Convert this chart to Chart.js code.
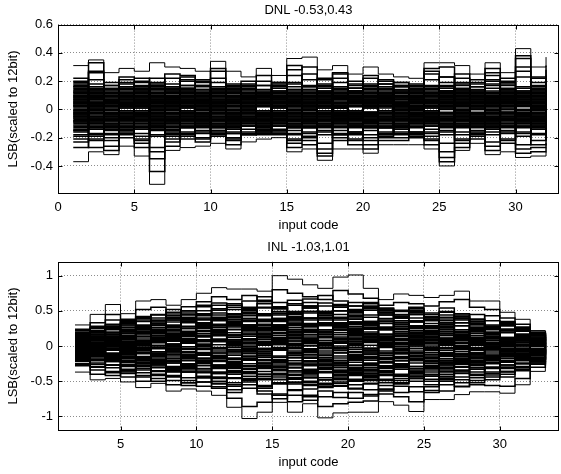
<!DOCTYPE html>
<html><head><meta charset="utf-8">
<script src="https://cdn.jsdelivr.net/npm/chart.js@4.4.1/dist/chart.umd.min.js"></script>
<style>
html,body{margin:0;padding:0;background:#fff;}
#wrap{position:relative;width:561px;height:474px;overflow:hidden;}
.box{position:absolute;left:0;width:561px;height:237px;}
</style></head>
<body><div id="wrap">
<div class="box" style="top:0"><canvas id="c1" width="561" height="237"></canvas></div>
<div class="box" style="top:237px"><canvas id="c2" width="561" height="237"></canvas></div>
</div>
<script>
// ---------- DNL (codes 1..32) ----------
const dnlCodes = [1,2,3,4,5,6,7,8,9,10,11,12,13,14,15,16,17,18,19,20,21,22,23,24,25,26,27,28,29,30,31,32];
const dnlXTicks = [0,5,10,15,20,25,30];
const dnlYTicks = [-0.4,-0.2,0,0.2,0.4,0.6];
const dnlTop    = [0.31,0.35,0.26,0.29,0.27,0.33,0.30,0.29,0.27,0.34,0.27,0.23,0.29,0.24,0.36,0.37,0.28,0.31,0.25,0.30,0.25,0.23,0.22,0.33,0.33,0.31,0.25,0.33,0.26,0.43,0.30,0.37];
const dnlBottom = [-0.37,-0.30,-0.32,-0.26,-0.33,-0.53,-0.29,-0.27,-0.26,-0.24,-0.28,-0.23,-0.21,-0.20,-0.30,-0.28,-0.36,-0.28,-0.28,-0.31,-0.25,-0.25,-0.25,-0.28,-0.40,-0.29,-0.24,-0.32,-0.30,-0.34,-0.33,-0.30];
const dnl01 = [0.14,-0.03,0.09,-0.12,0.05,0.18,-0.07,0.02,0.11,-0.15,0.06,-0.01,0.13,-0.09,0.04,0.16,-0.11,0.08,-0.04,0.12,-0.13,0.03,0.07,-0.06,0.15,-0.02,0.10,-0.14,0.01,0.09,-0.08,0.05];
const dnl02 = [-0.06,0.11,-0.15,0.03,0.13,-0.04,0.08,-0.12,0.00,0.07,-0.10,0.14,-0.05,0.02,-0.13,0.09,0.04,-0.08,0.15,-0.02,0.06,-0.11,0.12,0.01,-0.07,0.13,-0.04,0.08,-0.12,0.03,0.14,-0.09];
const dnl03 = [0.02,-0.14,0.06,0.10,-0.08,0.01,0.15,-0.05,-0.11,0.04,0.12,-0.07,0.09,0.13,-0.01,-0.10,0.07,0.14,-0.06,-0.12,0.11,0.05,-0.09,0.10,-0.03,0.06,0.13,-0.10,0.08,-0.05,0.02,-0.13];
const dnl04 = [0.10,0.05,-0.09,-0.02,0.16,-0.12,0.04,0.09,-0.06,0.13,-0.03,0.08,-0.11,0.05,0.12,-0.07,-0.02,0.10,0.06,-0.09,-0.05,0.13,0.02,-0.12,0.09,0.04,-0.08,0.11,-0.02,-0.13,0.07,0.12];
const dnl05 = [-0.13,0.08,0.03,-0.07,-0.01,0.10,-0.14,0.12,0.06,-0.04,0.09,0.02,-0.08,-0.12,0.07,0.03,-0.13,0.01,0.11,0.08,-0.03,-0.07,0.14,0.04,-0.11,-0.05,0.09,0.02,0.12,-0.08,-0.01,0.06];
const dnl06 = [0.07,-0.09,0.12,0.04,-0.10,-0.06,0.09,-0.02,0.14,0.01,-0.13,0.05,0.10,-0.04,-0.08,0.12,0.05,-0.10,0.02,0.14,0.09,-0.13,-0.01,0.07,0.11,-0.09,0.03,-0.06,0.15,0.05,-0.11,0.00];
const dnl07 = [-0.01,0.14,-0.05,0.08,0.03,-0.15,0.01,0.06,-0.09,0.11,0.05,-0.12,0.02,0.09,-0.11,-0.04,0.12,0.03,-0.12,0.04,0.13,0.00,-0.06,0.12,-0.08,0.10,-0.11,0.06,-0.04,0.11,0.04,-0.07];
const dnl08 = [0.12,-0.06,-0.11,0.14,-0.04,0.06,-0.10,0.15,0.03,-0.08,-0.06,0.11,-0.02,-0.07,0.10,0.07,-0.08,-0.03,0.09,-0.13,0.02,0.10,-0.12,-0.04,0.06,0.12,-0.06,-0.11,0.04,0.08,-0.14,0.10];
const dnl09 = [-0.09,0.02,0.13,-0.10,0.09,0.03,-0.03,-0.08,0.09,-0.01,0.14,-0.09,0.07,0.11,-0.06,0.01,0.10,-0.13,-0.08,0.06,-0.10,0.04,0.09,-0.09,0.01,-0.12,0.11,0.07,-0.09,-0.02,0.12,0.03];
const dnl10 = [0.04,0.09,-0.02,0.12,-0.13,0.14,0.06,-0.13,-0.04,0.09,-0.11,0.03,0.12,-0.10,0.04,-0.12,0.06,0.08,-0.02,-0.06,0.08,-0.08,0.03,0.14,-0.13,0.07,0.00,-0.12,0.10,0.13,-0.05,-0.10];
const dnl11 = [-0.04,-0.12,0.08,0.01,0.11,-0.08,0.12,0.03,-0.13,0.06,0.01,-0.04,-0.12,0.03,0.14,-0.09,-0.05,0.12,0.04,0.11,-0.07,0.07,-0.10,-0.02,0.12,-0.03,0.08,0.13,-0.07,0.04,0.09,-0.03];
const dnl12 = [0.16,0.04,-0.06,-0.11,0.07,0.02,-0.11,0.10,0.05,-0.12,0.10,-0.10,0.04,0.07,-0.09,0.14,-0.10,-0.06,0.13,-0.04,0.11,-0.02,0.06,-0.07,0.03,0.09,-0.13,0.01,0.06,-0.11,-0.06,0.14];
const dnl13 = [-0.11,0.12,0.11,-0.04,-0.06,0.12,0.05,-0.06,-0.10,0.13,-0.07,0.07,-0.06,-0.03,0.09,-0.06,0.13,0.06,-0.11,0.09,0.04,-0.12,-0.08,0.09,-0.06,0.14,0.06,-0.08,-0.12,0.10,0.01,-0.12];
const dnl14 = [0.08,-0.01,-0.13,0.06,0.13,-0.02,-0.08,0.13,0.12,-0.06,0.04,0.12,-0.09,0.12,-0.04,0.10,-0.03,-0.11,0.08,-0.09,-0.12,0.12,0.05,-0.11,0.10,-0.07,-0.04,0.10,0.02,-0.07,0.13,0.07];
const dnl15 = [-0.02,0.07,0.05,-0.14,0.01,-0.09,0.14,-0.01,-0.05,0.02,-0.12,0.09,0.11,-0.12,0.06,0.05,-0.12,0.10,-0.07,0.01,0.06,0.03,-0.11,0.05,0.08,-0.10,0.12,-0.03,-0.08,0.06,-0.10,0.08];
const dnl16 = [0.11,-0.10,0.00,0.09,-0.09,0.08,-0.05,0.04,0.07,-0.09,0.08,-0.06,-0.04,0.06,-0.12,0.12,0.02,-0.04,-0.10,0.12,-0.01,-0.05,0.11,-0.05,-0.10,0.03,-0.10,0.05,0.11,-0.03,0.06,-0.05];
const dnl17 = [-0.07,0.03,-0.08,-0.05,0.04,-0.13,0.10,-0.10,0.13,0.05,-0.02,0.01,0.08,-0.05,0.02,-0.08,0.09,0.01,0.07,-0.11,0.09,-0.09,-0.04,0.11,0.05,-0.02,0.07,-0.13,0.00,0.09,-0.08,0.11];
const dnl18 = [0.05,0.13,0.10,-0.08,0.10,0.05,-0.12,0.07,-0.07,-0.03,0.12,-0.11,0.03,0.09,0.08,-0.03,-0.07,0.13,-0.03,0.05,-0.09,0.11,0.01,-0.08,0.13,0.01,-0.06,0.08,-0.05,-0.12,0.03,0.02];
const dnl19 = [-0.12,-0.05,0.02,0.11,-0.11,-0.03,0.07,-0.04,0.02,0.11,-0.05,0.06,-0.13,-0.01,-0.07,0.09,0.11,-0.08,0.05,-0.07,0.12,-0.04,-0.13,0.06,-0.04,-0.11,0.10,0.03,0.13,-0.04,-0.13,0.09];
const dnl20 = [0.01,0.10,-0.12,-0.03,0.06,0.11,-0.01,0.11,-0.12,0.07,0.07,-0.02,0.10,-0.08,0.11,-0.11,0.04,-0.09,-0.05,0.10,-0.06,0.05,0.08,-0.01,-0.12,0.08,-0.09,-0.07,0.07,0.12,0.10,-0.04];
const dnl21 = [0.13,-0.08,0.07,0.05,-0.03,-0.10,0.11,0.01,0.10,-0.10,-0.09,0.10,-0.03,0.10,-0.02,0.04,-0.11,0.09,0.10,-0.02,0.01,-0.10,0.04,0.12,0.07,-0.08,0.05,-0.09,-0.10,0.00,-0.07,0.13];
const dnl22 = [-0.05,0.06,-0.04,0.13,-0.07,0.07,-0.09,-0.07,0.06,-0.05,0.13,0.08,-0.07,0.01,0.13,-0.05,0.08,-0.02,-0.09,0.07,-0.11,0.08,-0.06,-0.06,0.11,0.11,-0.12,0.12,-0.06,0.07,0.11,-0.11];
const dnl23 = [0.09,-0.13,0.14,-0.09,0.12,-0.05,0.03,0.08,-0.02,0.12,-0.04,-0.08,0.06,-0.11,0.00,0.11,-0.04,0.04,0.12,-0.10,0.05,0.02,-0.07,0.08,-0.09,0.04,0.09,-0.01,0.09,-0.09,-0.04,0.04];
const dnl24 = [-0.08,0.09,-0.10,0.02,0.02,0.15,-0.06,-0.11,0.08,-0.07,0.05,-0.05,0.11,0.04,-0.10,-0.01,-0.09,0.11,-0.06,0.03,0.10,-0.07,0.10,-0.10,0.02,-0.06,0.02,0.09,-0.11,0.05,0.08,-0.02];
const dnl25 = [0.06,0.00,0.04,-0.06,-0.12,-0.07,0.13,0.05,-0.08,0.03,-0.08,0.13,-0.10,0.08,0.07,-0.13,0.12,-0.05,0.03,-0.12,-0.04,0.13,-0.02,0.05,0.09,-0.04,-0.09,-0.05,0.11,-0.06,0.01,0.07];
const dnl26 = [-0.03,-0.07,0.09,0.07,0.08,0.09,-0.04,0.02,0.12,-0.11,0.02,-0.09,0.05,-0.06,0.10,0.02,0.07,-0.12,0.08,0.09,-0.08,-0.03,0.07,-0.05,-0.07,0.10,0.04,-0.10,0.03,0.11,-0.09,-0.06];
const dnl27 = [0.10,0.11,-0.07,-0.12,0.03,-0.11,0.08,-0.09,-0.03,0.08,-0.13,0.04,-0.04,0.11,-0.05,0.06,-0.06,0.07,-0.12,0.02,0.07,-0.05,-0.10,0.10,0.04,0.00,-0.07,0.04,-0.03,-0.10,0.05,0.10];
const dnl28 = [-0.10,-0.04,0.01,0.03,-0.05,0.04,-0.13,0.09,0.04,-0.02,0.09,0.00,-0.11,-0.04,0.05,-0.10,0.10,-0.01,0.06,-0.05,0.03,0.09,-0.03,-0.08,-0.05,0.12,-0.11,0.07,0.06,-0.01,-0.12,0.01];
const dnl29 = [0.03,0.08,-0.14,0.10,0.09,-0.01,0.04,-0.12,0.10,0.04,-0.01,-0.12,0.09,-0.09,-0.08,0.13,0.01,-0.07,-0.01,0.13,-0.12,0.04,0.12,0.02,0.10,-0.12,0.08,-0.02,-0.05,0.08,0.07,-0.08];
const dnl30 = [0.15,-0.11,0.05,-0.10,-0.02,0.06,-0.02,0.04,-0.05,0.10,0.06,0.11,-0.01,0.05,0.03,-0.07,-0.03,0.08,-0.04,-0.08,0.08,-0.01,-0.05,0.07,-0.10,0.05,0.12,-0.09,0.08,-0.07,0.00,0.12];
const dnl31 = [-0.14,0.04,0.07,-0.01,0.14,-0.09,-0.10,0.12,-0.07,0.05,-0.09,0.07,0.02,-0.10,0.12,0.08,-0.01,-0.09,0.11,0.04,-0.02,-0.12,0.06,-0.03,0.13,-0.08,0.01,0.11,-0.07,0.02,-0.09,0.04];
const dnl32 = [0.00,-0.02,-0.11,0.08,-0.10,0.13,0.02,-0.03,0.11,-0.08,0.11,-0.03,-0.12,0.07,-0.03,0.03,0.12,0.04,-0.10,0.08,0.11,0.06,-0.08,0.09,-0.02,0.03,-0.05,-0.08,0.10,0.12,0.05,-0.09];
const dnl33 = [0.07,0.15,0.03,-0.13,0.06,-0.05,0.06,0.10,-0.09,-0.06,0.03,-0.07,0.07,0.12,-0.11,-0.09,0.05,0.11,-0.05,-0.10,0.05,0.09,0.01,-0.12,0.07,0.08,-0.03,0.03,-0.12,-0.04,0.10,0.03];
const dnl34 = [-0.06,-0.09,0.11,0.12,-0.04,0.03,-0.07,-0.08,0.06,0.12,-0.10,0.09,-0.08,-0.02,0.06,-0.03,-0.12,0.02,0.09,-0.04,-0.05,-0.06,0.13,0.04,-0.11,0.11,0.07,-0.06,0.05,0.04,-0.02,-0.11];
const dnl35 = [0.12,0.07,-0.03,0.04,0.11,0.10,-0.03,0.06,0.01,-0.13,0.05,0.10,0.09,-0.07,0.09,-0.12,0.03,-0.10,0.02,0.11,-0.13,0.03,-0.04,0.11,0.00,-0.05,-0.10,0.09,0.03,-0.12,0.08,0.06];
const dnl36 = [-0.02,-0.13,0.06,-0.07,-0.08,-0.11,0.12,-0.05,-0.11,0.07,-0.03,-0.05,0.12,0.02,-0.13,0.05,-0.08,0.12,-0.11,0.06,0.08,-0.11,0.08,-0.06,0.09,0.07,0.05,-0.11,0.13,0.09,-0.04,-0.01];
const dnl37 = [0.09,0.03,-0.08,0.09,0.04,0.01,-0.09,0.14,0.05,0.00,0.13,-0.01,-0.05,0.08,0.02,0.10,0.08,-0.03,0.07,-0.03,0.02,0.12,-0.09,-0.03,-0.08,0.13,-0.08,0.00,-0.06,0.06,0.13,-0.06];
const dnl38 = [-0.09,0.10,0.02,-0.06,-0.13,0.07,0.05,-0.07,0.08,-0.11,-0.11,0.06,0.04,-0.12,0.07,-0.05,0.09,-0.04,-0.08,0.09,-0.07,0.01,0.05,0.06,-0.07,-0.13,0.10,0.06,-0.02,-0.09,-0.11,0.05];
const dnl39 = [0.04,-0.10,0.12,0.03,0.08,-0.14,-0.05,0.01,-0.04,0.04,0.08,-0.08,0.11,0.05,-0.08,0.01,-0.06,0.07,0.13,-0.12,0.10,-0.08,-0.01,0.13,0.05,-0.01,0.03,-0.04,0.12,0.05,0.02,0.09];
const dnl40 = [-0.15,0.01,-0.06,0.10,-0.06,0.09,0.09,-0.13,0.03,0.09,-0.06,0.03,-0.09,0.09,0.11,-0.08,0.11,-0.06,-0.02,0.02,-0.03,0.07,0.09,-0.09,0.12,-0.11,-0.07,0.12,-0.10,0.11,-0.06,-0.13];
const dnl41 = [0.22,-0.19,0.14,0.21,-0.22,0.16,-0.21,0.20,-0.17,0.22,0.16,-0.18,0.17,-0.15,0.24,-0.19,0.18,-0.20,0.18,0.22,-0.19,0.17,-0.18,0.25,-0.24,0.19,-0.17,0.24,-0.21,0.30,-0.22,0.18];
const dnl42 = [-0.23,0.27,-0.20,-0.17,0.19,-0.27,0.18,-0.19,0.20,-0.17,-0.20,0.16,-0.16,0.18,-0.21,0.25,-0.24,0.22,-0.16,-0.20,0.20,-0.18,0.17,-0.19,0.23,-0.21,0.18,-0.23,0.19,-0.25,0.22,-0.22];
const dnl43 = [0.18,0.21,-0.22,0.19,0.20,-0.35,0.22,0.17,-0.20,0.19,-0.21,0.17,0.20,-0.17,-0.22,0.21,-0.28,0.19,0.17,-0.22,0.16,-0.17,0.16,0.21,0.23,-0.22,0.16,0.21,0.18,0.27,0.19,-0.20];
const dnl44 = [-0.19,-0.22,0.17,-0.20,-0.24,0.22,-0.19,0.21,0.19,-0.18,0.18,-0.17,-0.15,0.16,0.19,-0.20,0.21,-0.18,-0.21,0.18,-0.18,0.19,-0.19,-0.21,-0.30,0.22,-0.18,0.20,-0.22,0.23,-0.25,0.24];
const dnl45 = [0.16,0.33,0.19,-0.16,0.17,0.19,-0.17,0.23,0.17,0.27,-0.17,0.20,-0.14,0.19,0.28,0.30,0.15,0.25,-0.17,0.24,0.18,0.16,-0.16,0.27,0.19,0.25,0.19,0.26,0.20,0.36,0.23,0.28];
const dnl46 = [-0.27,-0.21,-0.26,0.16,-0.21,-0.30,-0.23,-0.21,-0.21,-0.16,-0.22,-0.18,-0.17,-0.17,-0.24,-0.22,-0.31,-0.22,-0.22,-0.25,-0.20,-0.20,-0.20,-0.22,-0.34,-0.24,-0.19,-0.26,-0.24,-0.28,-0.27,-0.24];
const dnl47 = [0.20,0.26,0.05,0.23,0.22,-0.12,0.25,0.24,0.21,0.29,-0.05,0.18,0.24,0.19,0.31,0.08,0.22,0.26,0.20,-0.09,0.21,0.19,0.18,0.29,0.30,0.03,0.21,0.29,0.22,0.38,0.10,0.31];
const dnl48 = [-0.21,-0.27,-0.29,0.02,-0.27,-0.44,-0.26,-0.10,-0.23,-0.19,-0.25,0.07,-0.18,-0.18,-0.27,-0.25,-0.33,-0.04,-0.25,-0.28,-0.22,-0.22,0.11,-0.25,-0.37,-0.27,-0.21,-0.29,0.00,-0.31,-0.30,-0.27];
const dnl49 = [0.03,-0.02,0.05,-0.04,0.01,0.06,-0.03,0.02,-0.05,0.04,0.00,-0.03,0.05,-0.02,0.03,-0.04,0.06,-0.01,0.02,-0.05,0.04,-0.02,0.01,0.05,-0.03,0.02,-0.06,0.03,0.00,-0.04,0.05,-0.01];
const dnl50 = [-0.04,0.05,-0.01,0.03,-0.05,0.00,0.04,-0.06,0.03,-0.02,0.05,0.02,-0.04,0.06,-0.01,0.02,-0.05,0.03,-0.03,0.04,-0.06,0.01,0.04,-0.02,0.05,-0.04,0.03,-0.01,0.06,0.02,-0.03,0.04];
const dnl51 = [0.06,0.01,-0.04,-0.02,0.04,-0.06,0.01,0.05,-0.01,-0.05,0.03,0.05,-0.01,-0.04,0.05,0.06,-0.02,-0.04,0.05,0.01,0.02,0.05,-0.05,-0.01,0.01,0.06,0.00,-0.05,-0.03,0.05,-0.05,-0.04];
const dnl52 = [-0.01,-0.06,0.02,0.06,-0.03,0.03,-0.05,-0.02,0.06,0.02,-0.04,-0.06,0.03,0.01,-0.06,-0.02,0.03,0.05,-0.06,-0.02,0.06,-0.04,0.02,0.03,-0.06,-0.01,0.05,0.04,-0.02,-0.06,0.01,0.06];
const dnl53 = [0.05,0.03,0.00,-0.05,0.06,0.02,0.06,-0.04,0.01,0.06,-0.06,0.01,0.06,-0.05,0.01,0.04,0.01,-0.06,0.03,0.06,-0.01,0.03,-0.04,0.06,0.04,-0.05,-0.03,0.06,0.04,0.00,0.03,-0.02];
const dnl54 = [-0.05,0.00,0.06,0.01,-0.01,-0.04,0.03,0.04,-0.06,-0.03,0.02,0.04,-0.06,0.04,0.04,-0.06,-0.04,0.02,-0.01,-0.04,0.03,-0.06,0.06,-0.05,0.03,0.04,-0.02,-0.03,0.05,0.04,-0.06,0.02];
const dnl55 = [0.02,-0.05,-0.03,0.04,0.03,-0.02,-0.06,0.06,0.04,0.01,-0.02,-0.05,0.02,0.03,-0.04,0.00,0.05,-0.02,0.06,0.03,-0.05,0.04,0.00,0.01,-0.05,0.05,0.06,-0.06,-0.05,0.03,0.04,-0.05];
const dnl56 = [-0.03,0.04,0.04,-0.06,-0.04,0.05,0.00,-0.01,-0.03,0.05,0.06,-0.02,-0.03,-0.06,0.06,0.03,-0.03,0.01,-0.04,-0.06,0.05,0.02,-0.03,-0.04,0.06,-0.06,0.01,0.02,0.02,-0.05,0.06,0.03];
const dnl57 = [0.08,-0.07,0.07,0.07,-0.08,0.08,-0.08,0.08,0.07,-0.08,0.07,0.08,-0.07,0.08,-0.08,0.07,-0.08,-0.07,0.08,0.07,-0.08,0.08,-0.07,-0.08,0.08,0.07,-0.08,0.08,-0.07,0.07,-0.08,0.08];
const dnl58 = [-0.08,0.08,-0.07,-0.08,0.07,-0.07,0.08,-0.08,-0.08,0.07,-0.08,-0.07,0.08,-0.07,0.08,-0.08,0.07,0.08,-0.07,-0.08,0.08,-0.07,0.08,0.07,-0.07,-0.08,0.07,-0.07,0.08,-0.08,0.07,-0.07];
const dnl59 = [0.17,0.14,-0.13,-0.18,0.15,0.16,-0.16,0.13,0.16,-0.17,-0.14,0.15,0.12,-0.16,0.18,0.14,-0.15,-0.17,0.13,0.17,-0.16,-0.14,0.15,0.17,-0.18,0.15,0.14,-0.18,-0.16,0.13,0.17,-0.16];
const dnl60 = [-0.16,0.18,0.15,-0.13,-0.17,0.14,0.16,-0.18,-0.12,0.15,0.17,-0.14,-0.16,0.13,-0.15,-0.17,0.16,0.14,-0.18,-0.13,0.15,0.17,-0.16,-0.14,0.16,-0.18,0.13,0.17,-0.15,-0.19,-0.14,0.18];
const dnl61 = [0.13,-0.17,0.17,0.15,-0.14,-0.18,0.13,0.17,-0.15,0.14,-0.16,-0.12,0.17,0.15,-0.17,0.16,0.13,-0.15,-0.13,0.16,0.18,-0.13,-0.17,0.15,0.13,0.17,-0.15,-0.13,0.17,0.16,-0.17,0.14];
const dnl62 = [-0.18,0.13,-0.17,0.16,0.12,-0.14,-0.18,0.15,0.14,-0.13,0.15,0.17,-0.13,-0.14,0.16,-0.13,-0.18,0.16,0.15,-0.15,-0.13,0.16,0.14,-0.17,-0.15,0.14,-0.17,0.15,-0.13,-0.16,0.15,-0.17];
const dnl63 = [0.19,0.16,0.14,-0.15,-0.19,0.17,0.15,-0.16,0.17,0.16,-0.17,0.14,-0.15,0.17,0.14,-0.16,0.17,0.15,-0.16,-0.18,0.14,-0.16,0.13,0.16,-0.16,0.18,0.16,-0.16,0.14,-0.17,0.16,0.15];
const dnl64 = [-0.15,-0.18,-0.18,0.18,0.16,-0.19,-0.15,-0.17,-0.16,-0.15,0.16,-0.16,0.14,-0.15,-0.18,0.17,-0.16,-0.18,0.15,0.15,-0.17,0.14,-0.17,-0.16,0.17,-0.16,-0.16,0.18,-0.17,0.15,-0.18,-0.17];

// ---------- INL (codes 2..33) ----------
const inlCodes = [2,3,4,5,6,7,8,9,10,11,12,13,14,15,16,17,18,19,20,21,22,23,24,25,26,27,28,29,30,31,32,33];
const inlXTicks = [5,10,15,20,25,30];
const inlYTicks = [-1,-0.5,0,0.5,1];
const inlTop    = [0.30,0.45,0.59,0.46,0.64,0.66,0.58,0.66,0.75,0.83,0.81,0.81,0.78,1.00,0.95,0.87,0.82,0.98,1.01,0.82,0.66,0.74,0.72,0.69,0.72,0.78,0.64,0.64,0.48,0.38,0.22,0.10];
const inlBottom = [-0.37,-0.48,-0.46,-0.51,-0.59,-0.53,-0.64,-0.61,-0.64,-0.70,-0.87,-1.03,-0.94,-0.80,-0.94,-0.82,-1.02,-0.95,-0.94,-0.94,-0.79,-0.84,-0.93,-0.76,-0.76,-0.69,-0.65,-0.65,-0.67,-0.55,-0.36,-0.28];
const inl01 = [0.20,0.33,0.45,0.38,0.52,0.55,0.47,0.56,0.63,0.70,0.66,0.72,0.65,0.80,0.75,0.70,0.66,0.79,0.74,0.68,0.58,0.62,0.60,0.57,0.63,0.66,0.55,0.52,0.40,0.31,0.18,0.08];
const inl02 = [-0.28,-0.40,-0.38,-0.44,-0.50,-0.46,-0.55,-0.52,-0.57,-0.60,-0.74,-0.86,-0.80,-0.68,-0.79,-0.70,-0.86,-0.82,-0.80,-0.78,-0.68,-0.72,-0.79,-0.66,-0.64,-0.58,-0.55,-0.56,-0.57,-0.46,-0.30,-0.22];
const inl03 = [0.12,0.25,0.31,0.22,0.35,0.44,0.39,0.50,0.46,0.58,0.52,0.47,0.60,0.55,0.49,0.62,0.57,0.50,0.44,0.53,0.48,0.40,0.45,0.36,0.41,0.33,0.38,0.27,0.22,0.15,0.20,0.11];
const inl04 = [-0.15,-0.26,-0.20,-0.33,-0.29,-0.41,-0.36,-0.45,-0.51,-0.44,-0.55,-0.49,-0.60,-0.53,-0.62,-0.56,-0.48,-0.57,-0.50,-0.43,-0.52,-0.46,-0.39,-0.47,-0.40,-0.35,-0.42,-0.31,-0.36,-0.25,-0.18,-0.10];
const inl05 = [0.05,0.12,0.02,0.15,0.24,0.18,0.29,0.21,0.33,0.27,0.38,0.30,0.23,0.35,0.41,0.32,0.44,0.37,0.28,0.34,0.25,0.31,0.19,0.26,0.17,0.23,0.12,0.20,0.09,0.14,0.04,0.00];
const inl06 = [-0.04,-0.12,-0.03,-0.16,-0.09,-0.22,-0.14,-0.27,-0.20,-0.32,-0.25,-0.36,-0.29,-0.40,-0.31,-0.38,-0.28,-0.35,-0.42,-0.33,-0.37,-0.27,-0.34,-0.24,-0.30,-0.21,-0.26,-0.16,-0.22,-0.13,-0.07,-0.12];
const inl07 = [0.09,0.02,0.14,0.06,-0.03,0.08,0.17,0.11,0.22,0.15,0.05,0.16,0.26,0.19,0.29,0.21,0.12,0.23,0.31,0.24,0.14,0.20,0.10,0.18,0.07,0.15,0.22,0.13,0.05,0.11,0.02,0.06];
const inl08 = [-0.10,-0.02,-0.14,-0.07,-0.18,-0.11,-0.01,-0.13,-0.24,-0.17,-0.28,-0.20,-0.11,-0.23,-0.30,-0.21,-0.33,-0.25,-0.16,-0.27,-0.19,-0.26,-0.15,-0.22,-0.13,-0.20,-0.09,-0.17,-0.08,-0.14,-0.05,-0.09];
const inl09 = [0.16,0.08,0.19,0.27,0.20,0.30,0.24,0.35,0.28,0.40,0.33,0.43,0.36,0.46,0.38,0.29,0.39,0.31,0.22,0.30,0.37,0.28,0.34,0.25,0.30,0.21,0.27,0.17,0.24,0.16,0.09,0.15];
const inl10 = [-0.19,-0.10,-0.22,-0.15,-0.25,-0.31,-0.24,-0.34,-0.28,-0.39,-0.45,-0.37,-0.48,-0.41,-0.51,-0.44,-0.55,-0.47,-0.40,-0.49,-0.42,-0.52,-0.44,-0.37,-0.43,-0.34,-0.40,-0.32,-0.27,-0.33,-0.24,-0.16];
const inl11 = [0.02,0.10,0.17,0.09,0.19,0.11,0.03,0.14,0.07,0.17,0.09,-0.01,0.10,0.02,0.12,0.05,-0.04,0.06,-0.02,0.08,0.01,0.10,0.03,-0.05,0.04,-0.03,0.06,-0.02,0.05,-0.04,0.03,-0.02];
const inl12 = [-0.02,-0.09,0.01,-0.06,0.04,-0.03,0.07,-0.01,0.09,0.02,-0.07,0.03,-0.05,0.06,-0.03,0.08,0.00,-0.09,0.01,-0.07,0.03,-0.04,0.05,-0.02,0.07,0.00,-0.06,0.02,-0.05,0.01,-0.07,0.02];
const inl13 = [0.07,0.16,0.10,0.21,0.14,0.26,0.34,0.27,0.38,0.31,0.42,0.50,0.43,0.54,0.47,0.57,0.49,0.59,0.52,0.44,0.53,0.45,0.51,0.42,0.48,0.39,0.45,0.36,0.30,0.23,0.15,0.08];
const inl14 = [-0.07,0.01,-0.05,0.04,-0.04,0.06,-0.03,-0.12,-0.05,-0.15,-0.08,-0.18,-0.11,-0.03,-0.13,-0.06,-0.16,-0.09,-0.19,-0.10,-0.02,-0.11,-0.04,-0.14,-0.06,-0.12,-0.03,-0.10,-0.01,-0.08,0.00,-0.05];
const inl15 = [0.13,0.05,-0.04,0.03,-0.06,-0.15,-0.08,-0.18,-0.11,-0.21,-0.13,-0.05,-0.14,-0.23,-0.16,-0.26,-0.19,-0.10,-0.20,-0.12,-0.22,-0.15,-0.07,-0.16,-0.09,-0.18,-0.11,-0.20,-0.14,-0.07,-0.12,-0.04];
const inl16 = [-0.12,-0.04,0.05,-0.02,0.08,0.00,0.11,0.20,0.13,0.23,0.32,0.25,0.35,0.28,0.37,0.30,0.40,0.33,0.42,0.35,0.27,0.36,0.29,0.21,0.28,0.19,0.26,0.18,0.10,0.16,0.08,0.13];
const inl17 = [0.18,0.26,0.19,0.11,0.20,0.13,0.22,0.15,0.06,0.15,0.07,0.17,0.09,0.18,0.10,0.01,0.12,0.04,0.13,0.06,0.16,0.08,0.17,0.10,0.01,0.09,0.02,0.11,0.04,-0.04,0.05,-0.01];
const inl18 = [-0.21,-0.29,-0.36,-0.28,-0.38,-0.30,-0.22,-0.32,-0.25,-0.16,-0.26,-0.18,-0.27,-0.19,-0.10,-0.21,-0.13,-0.23,-0.15,-0.06,-0.17,-0.09,-0.19,-0.12,-0.21,-0.14,-0.23,-0.16,-0.08,-0.17,-0.10,-0.18];
const inl19 = [0.04,-0.05,-0.14,-0.07,-0.17,-0.25,-0.18,-0.29,-0.37,-0.30,-0.40,-0.33,-0.43,-0.35,-0.27,-0.36,-0.45,-0.38,-0.47,-0.39,-0.31,-0.40,-0.32,-0.41,-0.34,-0.26,-0.33,-0.24,-0.30,-0.21,-0.13,-0.20];
const inl20 = [-0.06,0.04,0.12,0.21,0.14,0.24,0.17,0.08,0.18,0.26,0.19,0.28,0.20,0.11,0.21,0.30,0.23,0.33,0.25,0.16,0.26,0.18,0.27,0.19,0.11,0.20,0.12,0.02,0.10,0.01,0.09,0.03];
const inl21 = [0.10,0.19,0.27,0.36,0.29,0.40,0.48,0.41,0.50,0.44,0.35,0.46,0.38,0.30,0.40,0.49,0.41,0.50,0.43,0.35,0.44,0.36,0.28,0.38,0.31,0.40,0.32,0.25,0.31,0.22,0.13,0.05];
const inl22 = [-0.16,-0.24,-0.31,-0.39,-0.32,-0.42,-0.35,-0.27,-0.37,-0.46,-0.38,-0.47,-0.56,-0.48,-0.40,-0.50,-0.58,-0.51,-0.61,-0.53,-0.62,-0.54,-0.46,-0.55,-0.48,-0.57,-0.49,-0.41,-0.44,-0.35,-0.26,-0.19];
const inl23 = [0.00,0.09,-0.01,0.10,0.18,0.09,0.00,-0.09,0.02,-0.07,0.04,-0.05,0.06,0.15,0.07,0.16,0.08,-0.02,0.07,-0.03,0.08,-0.01,-0.10,-0.02,-0.11,-0.03,-0.12,-0.04,-0.13,-0.05,-0.14,-0.06];
const inl24 = [-0.01,-0.10,-0.19,-0.12,-0.03,-0.13,-0.05,0.05,-0.04,0.07,-0.02,0.09,0.01,0.11,0.02,-0.08,0.03,-0.06,0.04,0.13,0.05,0.14,0.06,-0.03,0.07,-0.01,0.08,0.00,0.09,0.01,-0.08,0.01];
const inl25 = [0.22,0.14,0.24,0.32,0.41,0.34,0.27,0.37,0.45,0.53,0.46,0.55,0.63,0.56,0.65,0.57,0.49,0.58,0.50,0.60,0.52,0.44,0.53,0.45,0.54,0.46,0.38,0.43,0.35,0.27,0.18,0.10];
const inl26 = [-0.25,-0.17,-0.27,-0.35,-0.42,-0.50,-0.43,-0.52,-0.45,-0.54,-0.62,-0.55,-0.64,-0.70,-0.63,-0.72,-0.64,-0.73,-0.66,-0.71,-0.64,-0.57,-0.65,-0.58,-0.50,-0.52,-0.45,-0.48,-0.40,-0.33,-0.24,-0.14];
const inl27 = [0.14,0.21,0.13,0.04,-0.05,0.05,-0.04,-0.13,-0.22,-0.14,-0.23,-0.32,-0.25,-0.34,-0.42,-0.35,-0.26,-0.36,-0.28,-0.37,-0.29,-0.20,-0.29,-0.21,-0.30,-0.22,-0.14,-0.23,-0.15,-0.08,-0.16,-0.08];
const inl28 = [-0.13,-0.21,-0.12,-0.03,0.06,0.15,0.07,0.16,0.25,0.17,0.27,0.35,0.44,0.36,0.45,0.37,0.46,0.55,0.47,0.56,0.48,0.40,0.49,0.41,0.33,0.42,0.34,0.26,0.32,0.24,0.16,0.09];
const inl29 = [0.06,-0.03,0.07,0.15,0.06,-0.03,-0.12,-0.21,-0.13,-0.22,-0.30,-0.39,-0.31,-0.22,-0.31,-0.24,-0.33,-0.25,-0.17,-0.26,-0.18,-0.27,-0.36,-0.28,-0.20,-0.29,-0.21,-0.13,-0.21,-0.14,-0.06,0.02];
const inl30 = [-0.09,0.00,0.09,0.01,0.10,0.19,0.28,0.20,0.29,0.37,0.29,0.20,0.30,0.22,0.13,0.23,0.14,0.24,0.33,0.26,0.35,0.27,0.36,0.28,0.37,0.29,0.20,0.28,0.19,0.12,0.03,0.08];
const inl31 = [0.03,0.11,0.02,-0.07,-0.16,-0.08,-0.17,-0.09,-0.18,-0.27,-0.19,-0.28,-0.20,-0.29,-0.21,-0.12,-0.22,-0.14,-0.05,-0.15,-0.07,-0.17,-0.09,-0.18,-0.27,-0.19,-0.10,-0.18,-0.11,-0.19,-0.12,-0.04];
const inl32 = [-0.18,-0.09,-0.18,-0.10,-0.20,-0.12,-0.21,-0.30,-0.22,-0.31,-0.23,-0.14,-0.24,-0.16,-0.25,-0.17,-0.07,-0.17,-0.09,-0.18,-0.10,-0.01,-0.11,-0.03,-0.12,-0.04,-0.14,-0.05,-0.14,-0.06,0.03,-0.04];
const inl33 = [0.08,0.17,0.26,0.18,0.27,0.36,0.28,0.37,0.29,0.21,0.31,0.23,0.14,0.24,0.16,0.07,0.17,0.09,0.18,0.10,0.02,0.11,0.03,0.12,0.20,0.13,0.22,0.14,0.06,0.13,0.05,0.12];
const inl34 = [-0.03,-0.11,-0.20,-0.29,-0.21,-0.12,-0.21,-0.13,-0.04,-0.13,-0.05,0.04,-0.05,0.05,-0.04,0.06,-0.03,0.07,-0.02,0.08,-0.01,0.09,0.00,-0.09,0.01,-0.08,0.02,-0.07,0.03,-0.06,0.04,-0.03];
const inl35 = [0.15,0.22,0.30,0.26,0.37,0.45,0.52,0.47,0.56,0.61,0.55,0.64,0.70,0.62,0.58,0.67,0.72,0.64,0.57,0.62,0.54,0.49,0.55,0.47,0.40,0.44,0.37,0.30,0.33,0.25,0.17,0.06];
const inl36 = [-0.22,-0.30,-0.27,-0.37,-0.44,-0.40,-0.49,-0.56,-0.51,-0.58,-0.66,-0.60,-0.68,-0.75,-0.70,-0.77,-0.72,-0.66,-0.74,-0.69,-0.61,-0.66,-0.58,-0.63,-0.55,-0.48,-0.52,-0.44,-0.37,-0.30,-0.21,-0.13];
const inl37 = [0.01,-0.07,0.03,0.12,0.06,0.15,0.09,0.18,0.26,0.20,0.13,0.22,0.16,0.25,0.34,0.27,0.19,0.28,0.21,0.14,0.23,0.15,0.07,0.14,0.06,0.13,0.04,0.11,0.02,0.08,-0.01,0.05];
const inl38 = [-0.08,0.01,-0.06,0.03,-0.05,-0.14,-0.07,-0.16,-0.09,-0.18,-0.26,-0.19,-0.28,-0.21,-0.13,-0.22,-0.30,-0.23,-0.31,-0.24,-0.16,-0.25,-0.17,-0.09,-0.18,-0.11,-0.20,-0.13,-0.05,-0.12,-0.04,-0.10];
const inl39 = [0.10,0.03,0.12,0.20,0.28,0.21,0.30,0.39,0.32,0.41,0.34,0.26,0.35,0.44,0.37,0.28,0.37,0.45,0.38,0.30,0.39,0.31,0.40,0.32,0.24,0.33,0.25,0.17,0.24,0.16,0.08,0.14];
const inl40 = [-0.14,-0.06,-0.15,-0.23,-0.16,-0.25,-0.33,-0.26,-0.34,-0.27,-0.35,-0.43,-0.36,-0.44,-0.52,-0.45,-0.53,-0.46,-0.39,-0.47,-0.40,-0.33,-0.41,-0.34,-0.27,-0.35,-0.28,-0.21,-0.27,-0.20,-0.13,-0.20];
const inl41 = [0.05,0.14,0.06,-0.03,0.06,-0.02,0.07,0.15,0.07,-0.02,0.07,-0.01,-0.10,-0.02,0.07,0.00,0.08,0.00,-0.08,0.01,0.09,0.02,0.10,0.03,0.11,0.04,-0.04,0.03,-0.05,0.02,-0.06,0.00];
const inl42 = [-0.05,-0.13,-0.05,0.04,-0.04,0.05,-0.03,0.06,0.14,0.06,0.15,0.07,0.16,0.08,0.00,0.09,0.01,0.10,0.02,-0.06,0.03,-0.05,0.04,-0.04,0.05,-0.03,0.06,-0.02,0.07,0.00,0.08,0.01];
const inl43 = [0.19,0.28,0.37,0.30,0.39,0.32,0.41,0.50,0.58,0.51,0.60,0.53,0.45,0.54,0.47,0.56,0.48,0.40,0.49,0.57,0.50,0.42,0.34,0.41,0.33,0.39,0.31,0.24,0.29,0.21,0.13,0.19];
const inl44 = [-0.11,-0.19,-0.12,-0.20,-0.28,-0.21,-0.29,-0.37,-0.44,-0.37,-0.29,-0.38,-0.31,-0.39,-0.47,-0.55,-0.48,-0.56,-0.49,-0.42,-0.35,-0.43,-0.36,-0.29,-0.37,-0.30,-0.23,-0.30,-0.23,-0.16,-0.22,-0.15];
const inl45 = [0.07,-0.02,-0.10,-0.18,-0.11,-0.19,-0.12,-0.04,-0.12,-0.20,-0.13,-0.05,0.03,-0.05,0.04,-0.04,0.05,0.13,0.06,0.14,0.07,0.15,0.08,0.00,0.08,0.01,0.09,0.02,-0.06,0.01,-0.07,-0.01];
const inl46 = [-0.17,-0.09,-0.01,0.07,0.00,0.08,0.16,0.09,0.01,0.09,0.02,0.10,0.03,-0.05,0.03,-0.05,-0.13,-0.06,-0.14,-0.07,0.01,-0.07,0.00,0.08,0.01,0.09,0.02,0.10,0.03,0.11,0.04,0.10];
const inl47 = [0.11,0.19,0.12,0.20,0.13,0.21,0.14,0.06,0.14,0.22,0.30,0.23,0.31,0.39,0.32,0.40,0.33,0.26,0.34,0.27,0.35,0.28,0.20,0.28,0.21,0.13,0.21,0.14,0.22,0.15,0.07,0.12];
const inl48 = [-0.20,-0.12,-0.21,-0.14,-0.06,-0.14,-0.07,-0.15,-0.23,-0.31,-0.24,-0.32,-0.40,-0.33,-0.25,-0.33,-0.26,-0.34,-0.27,-0.35,-0.28,-0.21,-0.29,-0.22,-0.15,-0.23,-0.16,-0.24,-0.17,-0.10,-0.17,-0.08];
const inl49 = [0.00,0.08,0.16,0.24,0.17,0.09,0.17,0.25,0.18,0.10,0.02,0.10,0.18,0.26,0.19,0.11,0.03,0.11,0.19,0.12,0.04,-0.04,0.04,-0.03,0.05,-0.02,0.06,-0.01,0.07,0.00,0.06,0.01];
const inl50 = [0.02,-0.06,-0.14,-0.07,-0.15,-0.08,0.00,-0.08,-0.01,0.07,0.00,-0.08,-0.16,-0.24,-0.17,-0.09,-0.17,-0.25,-0.18,-0.10,-0.18,-0.11,-0.19,-0.12,-0.04,-0.12,-0.05,-0.13,-0.06,-0.14,-0.07,0.00];
const inl51 = [0.24,0.16,0.25,0.33,0.26,0.18,0.27,0.35,0.43,0.36,0.44,0.37,0.29,0.38,0.46,0.54,0.47,0.55,0.62,0.55,0.47,0.40,0.48,0.41,0.49,0.42,0.35,0.28,0.20,0.26,0.19,0.14];
const inl52 = [-0.26,-0.34,-0.42,-0.35,-0.27,-0.36,-0.44,-0.37,-0.45,-0.53,-0.46,-0.38,-0.46,-0.54,-0.47,-0.39,-0.31,-0.40,-0.33,-0.41,-0.49,-0.42,-0.50,-0.43,-0.36,-0.44,-0.37,-0.30,-0.36,-0.29,-0.22,-0.28];
const inl53 = [0.04,0.12,0.20,0.13,0.21,0.29,0.37,0.45,0.38,0.30,0.38,0.46,0.54,0.47,0.39,0.47,0.40,0.32,0.24,0.32,0.25,0.17,0.25,0.18,0.26,0.19,0.12,0.19,0.12,0.05,0.11,0.04];
const inl54 = [-0.02,-0.10,-0.18,-0.26,-0.34,-0.27,-0.35,-0.28,-0.20,-0.28,-0.36,-0.29,-0.21,-0.29,-0.37,-0.45,-0.38,-0.30,-0.38,-0.31,-0.23,-0.31,-0.24,-0.32,-0.25,-0.18,-0.26,-0.19,-0.11,-0.18,-0.11,-0.04];
const inl55 = [0.13,0.05,-0.03,0.05,-0.02,0.06,-0.01,-0.09,-0.17,-0.10,-0.18,-0.11,-0.19,-0.27,-0.35,-0.28,-0.36,-0.44,-0.37,-0.45,-0.38,-0.30,-0.38,-0.31,-0.23,-0.15,-0.22,-0.15,-0.08,-0.15,-0.08,-0.14];
const inl56 = [-0.13,-0.05,0.03,0.11,0.04,0.12,0.20,0.28,0.21,0.29,0.37,0.30,0.22,0.30,0.23,0.31,0.39,0.32,0.40,0.33,0.25,0.33,0.26,0.18,0.26,0.19,0.11,0.18,0.11,0.17,0.10,0.03];
const inl57 = [0.08,0.01,0.09,0.02,-0.07,0.01,-0.08,-0.01,0.07,0.15,0.06,0.14,0.05,-0.03,-0.11,-0.04,0.04,-0.03,-0.12,-0.20,-0.13,-0.21,-0.14,-0.06,-0.13,-0.05,0.03,-0.04,0.04,-0.03,-0.10,-0.04];
const inl58 = [-0.09,-0.01,0.07,-0.01,0.06,-0.02,-0.10,-0.18,-0.11,-0.03,0.05,-0.03,0.04,0.12,0.20,0.13,0.21,0.29,0.22,0.30,0.23,0.15,0.22,0.14,0.21,0.13,0.05,0.12,0.04,0.10,0.03,-0.03];
const inl59 = [0.06,0.13,0.07,0.14,0.21,0.15,0.22,0.16,0.09,0.16,0.24,0.17,0.25,0.18,0.26,0.19,0.12,0.19,0.27,0.20,0.13,0.21,0.14,0.07,0.15,0.08,0.01,0.08,0.02,0.09,0.03,0.08];
const inl60 = [-0.05,-0.11,-0.04,-0.12,-0.19,-0.27,-0.20,-0.13,-0.21,-0.29,-0.22,-0.15,-0.08,-0.16,-0.09,-0.17,-0.24,-0.31,-0.23,-0.16,-0.24,-0.17,-0.10,-0.18,-0.11,-0.04,-0.12,-0.05,-0.13,-0.06,-0.13,-0.06];
const inl61 = [0.00,0.07,0.14,0.21,0.28,0.22,0.15,0.08,0.15,0.22,0.29,0.36,0.29,0.22,0.15,0.22,0.29,0.22,0.15,0.08,0.01,0.08,0.15,0.22,0.15,0.08,0.15,0.08,0.01,0.07,0.00,0.04];
const inl62 = [-0.10,-0.03,0.04,-0.03,-0.10,-0.17,-0.24,-0.17,-0.10,-0.03,-0.10,-0.17,-0.24,-0.31,-0.24,-0.17,-0.10,-0.03,0.04,-0.03,-0.10,-0.17,-0.10,-0.17,-0.24,-0.17,-0.10,-0.03,-0.10,-0.03,-0.09,-0.02];
const inl63 = [0.03,-0.04,-0.11,-0.04,0.03,0.10,0.17,0.10,0.03,-0.04,0.03,0.10,0.17,0.24,0.31,0.24,0.31,0.24,0.17,0.10,0.17,0.24,0.17,0.10,0.03,0.10,0.03,-0.04,0.03,-0.04,0.02,-0.03];
const inl64 = [-0.03,0.04,0.11,0.04,-0.03,-0.10,-0.03,0.04,-0.03,-0.10,-0.17,-0.10,-0.03,0.04,0.11,0.04,-0.03,0.04,0.11,0.18,0.11,0.04,-0.03,0.04,0.11,0.04,-0.03,0.04,-0.03,0.03,-0.04,0.02];
const inl65 = [0.09,0.16,0.23,0.30,0.23,0.30,0.37,0.44,0.37,0.30,0.23,0.30,0.37,0.30,0.23,0.16,0.23,0.16,0.09,0.16,0.09,0.02,0.09,0.16,0.09,0.16,0.09,0.02,0.09,0.02,-0.05,0.01];
const inl66 = [-0.07,-0.14,-0.21,-0.28,-0.21,-0.14,-0.07,-0.14,-0.21,-0.14,-0.07,0.00,-0.07,-0.14,-0.07,-0.14,-0.21,-0.28,-0.35,-0.28,-0.35,-0.28,-0.21,-0.28,-0.21,-0.14,-0.21,-0.14,-0.07,-0.14,-0.07,-0.12];
const inl67 = [0.01,0.08,0.01,-0.06,0.01,0.08,0.01,0.08,0.15,0.08,0.01,-0.06,-0.13,-0.06,0.01,-0.06,-0.13,-0.20,-0.13,-0.06,0.01,-0.06,-0.13,-0.06,0.01,0.08,0.01,0.08,0.01,0.07,0.01,0.05];
const inl68 = [-0.12,-0.19,-0.12,-0.05,0.02,0.09,0.02,-0.05,0.02,0.09,0.16,0.09,0.16,0.09,0.02,0.09,0.16,0.23,0.16,0.09,0.16,0.09,0.02,0.09,0.02,-0.05,0.02,-0.05,-0.12,-0.05,-0.12,-0.06];
const inl69 = [0.17,0.10,0.03,0.10,0.03,-0.04,0.03,-0.04,-0.11,-0.04,0.03,0.10,0.03,0.10,0.17,0.10,0.03,-0.04,0.03,-0.04,-0.11,-0.04,0.03,-0.04,-0.11,-0.18,-0.11,-0.18,-0.11,-0.04,-0.11,-0.05];
const inl70 = [-0.16,-0.09,-0.16,-0.09,-0.02,0.05,0.12,0.19,0.26,0.19,0.12,0.05,0.12,0.05,-0.02,-0.09,-0.02,0.05,-0.02,0.05,0.12,0.05,0.12,0.05,-0.02,0.05,-0.02,0.05,0.12,0.05,0.11,0.06];
const inl71 = [0.04,-0.03,0.04,0.11,0.18,0.11,0.18,0.25,0.32,0.39,0.32,0.39,0.46,0.39,0.32,0.39,0.32,0.39,0.32,0.25,0.32,0.25,0.18,0.25,0.18,0.11,0.18,0.11,0.04,0.11,0.04,0.09];
const inl72 = [-0.04,0.03,-0.04,-0.11,-0.18,-0.25,-0.32,-0.25,-0.32,-0.39,-0.32,-0.25,-0.32,-0.39,-0.46,-0.39,-0.32,-0.25,-0.32,-0.25,-0.32,-0.25,-0.18,-0.25,-0.32,-0.25,-0.18,-0.25,-0.18,-0.11,-0.18,-0.10];
const inl73 = [0.14,0.21,0.28,0.35,0.42,0.36,0.43,0.50,0.44,0.51,0.58,0.52,0.46,0.53,0.60,0.54,0.61,0.55,0.48,0.54,0.47,0.41,0.47,0.40,0.33,0.39,0.32,0.25,0.30,0.22,0.15,0.09];
const inl74 = [-0.13,-0.20,-0.27,-0.34,-0.28,-0.35,-0.42,-0.49,-0.43,-0.50,-0.57,-0.51,-0.58,-0.52,-0.45,-0.52,-0.59,-0.53,-0.60,-0.54,-0.47,-0.53,-0.46,-0.40,-0.46,-0.39,-0.33,-0.39,-0.32,-0.25,-0.19,-0.12];
const inl75 = [0.11,0.04,0.11,0.18,0.25,0.32,0.26,0.33,0.40,0.47,0.41,0.48,0.55,0.49,0.42,0.49,0.43,0.50,0.57,0.51,0.44,0.51,0.45,0.38,0.44,0.37,0.30,0.23,0.29,0.22,0.16,0.11];
const inl76 = [-0.08,-0.15,-0.22,-0.16,-0.23,-0.30,-0.37,-0.31,-0.38,-0.45,-0.52,-0.46,-0.40,-0.47,-0.54,-0.61,-0.55,-0.48,-0.55,-0.62,-0.56,-0.49,-0.43,-0.50,-0.44,-0.37,-0.31,-0.37,-0.30,-0.24,-0.17,-0.23];
const inl77 = [0.02,0.09,0.16,0.23,0.30,0.37,0.44,0.38,0.31,0.38,0.45,0.39,0.46,0.53,0.47,0.40,0.47,0.41,0.34,0.41,0.35,0.42,0.36,0.29,0.36,0.29,0.23,0.16,0.22,0.15,0.09,0.02];
const inl78 = [-0.01,-0.08,-0.15,-0.22,-0.29,-0.23,-0.30,-0.37,-0.44,-0.38,-0.45,-0.39,-0.46,-0.40,-0.47,-0.41,-0.48,-0.42,-0.35,-0.42,-0.36,-0.29,-0.36,-0.30,-0.23,-0.30,-0.24,-0.17,-0.23,-0.16,-0.10,-0.03];

const dnlRuns = [dnlTop,dnlBottom,dnl01,dnl02,dnl03,dnl04,dnl05,dnl06,dnl07,dnl08,dnl09,dnl10,dnl11,dnl12,dnl13,dnl14,dnl15,dnl16,dnl17,dnl18,dnl19,dnl20,dnl21,dnl22,dnl23,dnl24,dnl25,dnl26,dnl27,dnl28,dnl29,dnl30,dnl31,dnl32,dnl33,dnl34,dnl35,dnl36,dnl37,dnl38,dnl39,dnl40,dnl41,dnl42,dnl43,dnl44,dnl45,dnl46,dnl47,dnl48,dnl49,dnl50,dnl51,dnl52,dnl53,dnl54,dnl55,dnl56,dnl57,dnl58,dnl59,dnl60,dnl61,dnl62,dnl63,dnl64];
const inlRuns = [inlTop,inlBottom,inl01,inl02,inl03,inl04,inl05,inl06,inl07,inl08,inl09,inl10,inl11,inl12,inl13,inl14,inl15,inl16,inl17,inl18,inl19,inl20,inl21,inl22,inl23,inl24,inl25,inl26,inl27,inl28,inl29,inl30,inl31,inl32,inl33,inl34,inl35,inl36,inl37,inl38,inl39,inl40,inl41,inl42,inl43,inl44,inl45,inl46,inl47,inl48,inl49,inl50,inl51,inl52,inl53,inl54,inl55,inl56,inl57,inl58,inl59,inl60,inl61,inl62,inl63,inl64,inl65,inl66,inl67,inl68,inl69,inl70,inl71,inl72,inl73,inl74,inl75,inl76,inl77,inl78];

Chart.defaults.font.family = '"Liberation Sans", Arial, Helvetica, sans-serif';
Chart.defaults.font.size = 13;
Chart.defaults.color = '#000';

const frameTicks = {
  id: 'frameTicks',
  afterDraw(chart) {
    const {ctx, chartArea: a} = chart;
    const x = chart.scales.x, y = chart.scales.y;
    const L = Math.round(a.left) + 0.5, R = Math.round(a.right) - 0.5;
    const T = Math.round(a.top) + 0.5, B = Math.round(a.bottom) - 0.5;
    const len = 4;
    ctx.save();
    ctx.strokeStyle = '#000';
    ctx.lineWidth = 1;
    ctx.beginPath();
    x.ticks.forEach(t => {
      const px = Math.round(x.getPixelForValue(t.value)) + 0.5;
      ctx.moveTo(px, T); ctx.lineTo(px, T + len);
      ctx.moveTo(px, B); ctx.lineTo(px, B - len);
    });
    y.ticks.forEach(t => {
      const py = Math.round(y.getPixelForValue(t.value)) + 0.5;
      ctx.moveTo(L, py); ctx.lineTo(L + len, py);
      ctx.moveTo(R, py); ctx.lineTo(R - len, py);
    });
    ctx.stroke();
    ctx.strokeRect(L, T, R - L, B - T);
    ctx.restore();
  }
};

function makeChart(id, codes, runs, titleText, xMin, xMax, xTicks, yMin, yMax, yTicks) {
  const datasets = runs.map((run, k) => ({
    data: run.map((v, i) => ({x: codes[i], y: v})),
    borderColor: '#000',
    borderWidth: k < 2 ? 1 : 1.5,
    pointRadius: 0,
    stepped: 'before',
    fill: false
  }));
  return new Chart(document.getElementById(id), {
    type: 'line',
    data: {datasets},
    options: {
      responsive: false,
      animation: false,
      devicePixelRatio: 1,
      layout: {padding: {left: 0, right: 2, top: 0, bottom: 0}},
      plugins: {
        legend: {display: false},
        tooltip: {enabled: false},
        title: {display: true, fullSize: false, text: titleText, color: '#000',
                font: {size: 13, weight: 'normal'}, padding: {top: 3, bottom: 6}}
      },
      scales: {
        x: {
          type: 'linear', min: xMin, max: xMax,
          afterBuildTicks: s => { s.ticks = xTicks.map(v => ({value: v})); },
          afterFit: s => { s.height = 43.5; },
          ticks: {autoSkip: false, maxRotation: 0, padding: 6, callback: v => String(v)},
          grid: {color: '#8c8c8c', lineWidth: 1, drawTicks: false},
          border: {display: false, dash: [1, 2]},
          title: {display: true, text: 'input code', color: '#000', font: {size: 13}, padding: {top: 0, bottom: 4}}
        },
        y: {
          type: 'linear', min: yMin, max: yMax,
          afterBuildTicks: s => { s.ticks = yTicks.map(v => ({value: v})); },
          afterFit: s => { s.width = 58; },
          ticks: {autoSkip: false, padding: 5, callback: v => String(v)},
          grid: {color: '#8c8c8c', lineWidth: 1, drawTicks: false},
          border: {display: false, dash: [1, 2]},
          title: {display: true, text: 'LSB(scaled to 12bit)', color: '#000', font: {size: 13}, padding: {top: 6, bottom: 0}}
        }
      }
    },
    plugins: [frameTicks]
  });
}

makeChart('c1', dnlCodes, dnlRuns, 'DNL -0.53,0.43', 0, 32.85, dnlXTicks, -0.595, 0.6, dnlYTicks);
makeChart('c2', inlCodes, inlRuns, 'INL -1.03,1.01', 0.88, 33.9, inlXTicks, -1.2, 1.2, inlYTicks);
</script>
</body></html>
